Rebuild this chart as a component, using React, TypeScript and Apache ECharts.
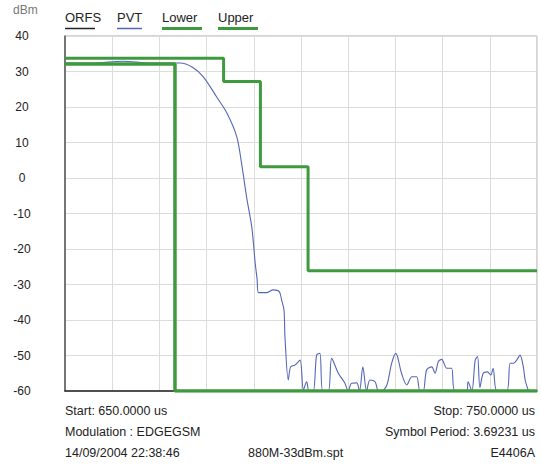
import React, { useEffect, useRef } from "react";
import * as echarts from "echarts";

// Y axis tick labels (dBm)
const yTicks = [40, 30, 20, 10, 0, -10, -20, -30, -40, -50, -60];

// PVT trace (time in us, level in dBm)
const pvtTime = [
  650, 656, 662.3, 668, 674.4, 677, 679.3, 682.1, 684.3, 686.4, 687.4, 688.5, 689.6, 690.3, 690.7, 691.0,
  692.7, 694.1, 695.4, 695.9, 696.4, 696.6, 697.3, 697.8, 698.7, 699.8, 700.5, 701.2, 701.7, 702.6, 703.3,
  704.0, 704.6, 705.8, 706.5, 707.9, 709.3, 710.0, 710.7, 711.8, 712.4, 713.1, 713.9, 714.6, 715.7, 716.4,
  717.1, 718.2, 719.2, 720.1, 721.3, 722.4, 723.5, 724.5, 725.2, 725.9, 726.6, 727.7, 728.4, 729.1, 729.8,
  730.9, 731.9, 732.6, 735.1, 735.4, 736.2, 736.9, 737.4, 737.9, 738.6, 739.5, 740.2, 740.7, 741.5, 743.6,
  744.3, 745.0, 745.7, 746.4, 747.1, 747.5, 748.2
];
const pvtLevel = [
  32.4, 32.4, 32.9, 32.4, 32.4, 31.2, 28.5, 22.9, 18.3, 11.6, 4.2, -5.6, -14.1, -24, -28.5, -32.3,
  -32.3, -31.5, -32.0, -34.4, -37.2, -44.7, -56.9, -53.2, -52.7, -51.3, -59.7, -57.4, -60, -60, -49.9,
  -49.4, -60, -60, -50.8, -55.0, -57.8, -60, -57.8, -57.7, -60, -53.2, -60, -56.9, -57.4, -60,
  -60, -58.3, -52.2, -49.4, -55.0, -58.3, -56.0, -56.0, -60, -60, -54.1, -53.2, -55.0, -51.7, -51.1,
  -53.6, -53.6, -60, -60, -57.4, -60, -51.3, -50.3, -59, -55.0, -54.6, -55.5, -53.6, -60, -60,
  -52.2, -52.2, -51.3, -49.9, -53.2, -56.9, -60
];

// Lower mask
const lowerTime = [650, 673.3, 673.3, 750];
const lowerLevel = [32.1, 32.1, -60, -60];

// Upper mask
const upperTime = [650, 683.6, 683.6, 691.4, 691.4, 701.5, 701.5, 750];
const upperLevel = [33.7, 33.7, 27.2, 27.2, 3.2, 3.2, -26.1, -26.1];

const legendNames = ["ORFS", "PVT", "Lower", "Upper"];
const infoLeft = ["Start: 650.0000 us", "Modulation : EDGEGSM", "14/09/2004 22:38:46"];
const infoRight = ["Stop: 750.0000 us", "Symbol Period: 3.69231 us", "E4406A"];
const fileName = "880M-33dBm.spt";

const zip = (xs: number[], ys: number[]) => xs.map((x, i) => [x, ys[i]]);

export default function App() {
  const ref = useRef<HTMLDivElement>(null);
  useEffect(() => {
    if (!ref.current) return;
    document.body.style.margin = "0";
    const chart = echarts.init(ref.current, undefined, { renderer: "svg" });
    const font = "'Liberation Sans', Arial, sans-serif";
    const green = "#3f9a3f";
    const blue = "#5566b8";
    const legendX = [65, 117, 162, 218];
    const legendW = [30, 25, 40, 40];
    const legendColors = ["#222", blue, green, green];
    const legendLW = [1.5, 1.5, 3, 3];
    const graphic: any[] = [
      {
        type: "text",
        left: 13,
        top: 4,
        style: { text: "dBm", font: `12px ${font}`, fill: "#777" },
      },
    ];
    legendNames.forEach((n, i) => {
      graphic.push({
        type: "text",
        left: legendX[i],
        top: 11,
        style: { text: n, font: `13px ${font}`, fill: "#222" },
      });
      graphic.push({
        type: "line",
        shape: { x1: legendX[i], y1: 28.5, x2: legendX[i] + legendW[i], y2: 28.5 },
        style: { stroke: legendColors[i], lineWidth: legendLW[i] },
      });
    });
    const rowsY = [404, 425, 446];
    infoLeft.forEach((t, i) => {
      graphic.push({
        type: "text",
        left: 65,
        top: rowsY[i],
        style: { text: t, font: `12.5px ${font}`, fill: "#222" },
      });
    });
    infoRight.forEach((t, i) => {
      graphic.push({
        type: "text",
        right: 6,
        top: rowsY[i],
        style: { text: t, font: `12.5px ${font}`, fill: "#222" },
      });
    });
    graphic.push({
      type: "text",
      left: 248,
      top: rowsY[2],
      style: { text: fileName, font: `12.5px ${font}`, fill: "#222" },
    });

    chart.setOption({
      animation: false,
      backgroundColor: "#fff",
      grid: {
        left: 65,
        top: 36,
        right: 4,
        bottom: 76,
        show: true,
        borderColor: "#aaa",
        borderWidth: 1,
      },
      xAxis: {
        type: "value",
        min: 650,
        max: 750,
        interval: 10,
        axisLabel: { show: false },
        axisTick: { show: false },
        axisLine: { show: true, onZero: false, lineStyle: { color: "#222", width: 1.5 } },
        splitLine: { show: true, lineStyle: { color: "#dcdcdc", width: 1 } },
      },
      yAxis: {
        type: "value",
        min: -60,
        max: 40,
        interval: 10,
        axisLabel: {
          show: true,
          align: "center",
          margin: 43,
          color: "#222",
          fontSize: 12,
          fontFamily: font,
          formatter: (v: number) => (yTicks.includes(v) ? String(v) : ""),
        },
        axisTick: { show: false },
        axisLine: { show: true, onZero: false, lineStyle: { color: "#555", width: 1.5 } },
        splitLine: { show: true, lineStyle: { color: "#dcdcdc", width: 1 } },
      },
      series: [
        {
          name: "PVT",
          type: "line",
          data: zip(pvtTime, pvtLevel),
          showSymbol: false,
          smooth: 0.3,
          lineStyle: { color: blue, width: 1.1 },
          z: 2,
        },
        {
          name: "Lower",
          type: "line",
          data: zip(lowerTime, lowerLevel),
          showSymbol: false,
          lineStyle: { color: green, width: 3.5 },
          z: 3,
        },
        {
          name: "Upper",
          type: "line",
          data: zip(upperTime, upperLevel),
          showSymbol: false,
          lineStyle: { color: green, width: 3 },
          z: 3,
        },
      ],
      graphic,
    });
    return () => chart.dispose();
  }, []);
  return <div ref={ref} style={{ width: 541, height: 467 }} />;
}
